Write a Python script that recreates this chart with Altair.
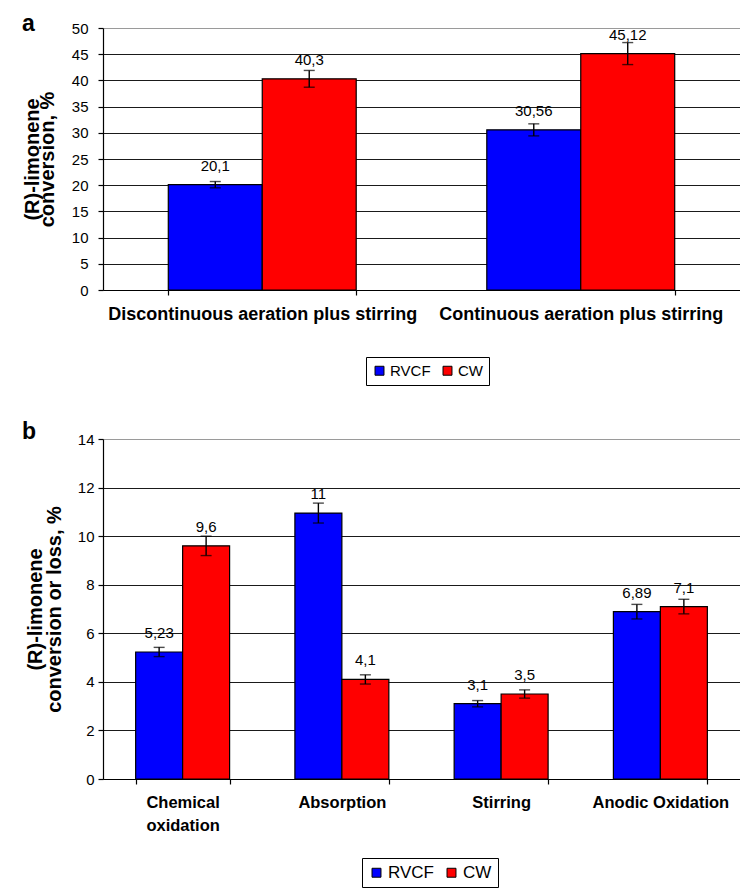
import altair as alt
import pandas as pd

FONT = "Liberation Sans"

# ---------- panel a data ----------
a_categories = ["Discontinuous aeration plus stirring", "Continuous aeration plus stirring"]
a_series = ["RVCF", "CW"]
a_rvcf = [20.1, 30.56]
a_cw = [40.3, 45.12]
a_rvcf_err = [0.6, 1.15]
a_cw_err = [1.6, 2.1]
a_rvcf_lbl = ["20,1", "30,56"]
a_cw_lbl = ["40,3", "45,12"]
a_ticks = [0, 5, 10, 15, 20, 25, 30, 35, 40, 45, 50]

# ---------- panel b data ----------
b_categories = ["Chemical oxidation", "Absorption", "Stirring", "Anodic Oxidation"]
b_rvcf = [5.23, 10.95, 3.1, 6.89]
b_cw = [9.6, 4.1, 3.5, 7.1]
b_rvcf_err = [0.19, 0.41, 0.13, 0.3]
b_cw_err = [0.4, 0.19, 0.17, 0.3]
b_rvcf_lbl = ["5,23", "11", "3,1", "6,89"]
b_cw_lbl = ["9,6", "4,1", "3,5", "7,1"]
b_ticks = [0, 2, 4, 6, 8, 10, 12, 14]

colors = ["#0000FF", "#FF0000"]


def long_df(cats, rv, cw, rv_e, cw_e, rv_l, cw_l):
    rows = []
    for i, c in enumerate(cats):
        for s, v, e, l in (("RVCF", rv[i], rv_e[i], rv_l[i]), ("CW", cw[i], cw_e[i], cw_l[i])):
            rows.append({"cat": c, "series": s, "value": v, "lo": v - e, "hi": v + e, "label": l})
    return pd.DataFrame(rows)


def panel(df, cats, ticks, ymax, width, height, ytitle, letter, xfont, legend_x, legend_y,
          title_lh, label_pad, title_pad, letter_dx, letter_offset, legend_font,
          label_expr=None):
    xaxis = dict(title=None, labelAngle=0, labelFont=FONT, labelFontSize=xfont,
                 labelFontWeight="bold", labelColor="black", labelPadding=10,
                 labelLimit=500,
                 domainColor="black", domainWidth=1.2, tickColor="black", tickSize=5,
                 tickWidth=1.2, tickBand="extent", grid=False, labelLineHeight=23)
    if label_expr:
        xaxis["labelExpr"] = label_expr
    x = alt.X("cat:N", sort=cats,
              scale=alt.Scale(paddingInner=0.41, paddingOuter=0.205),
              axis=alt.Axis(**xaxis))
    xo = alt.XOffset("series:N", sort=a_series)
    y_scale = alt.Scale(domain=[0, ymax], nice=False)
    yaxis = alt.Axis(values=ticks, title=ytitle, titleFont=FONT, titleFontSize=20,
                     titleFontWeight="bold", titleColor="black", titleLineHeight=title_lh,
                     titlePadding=title_pad,
                     labelFont=FONT, labelFontSize=15, labelColor="black",
                     labelPadding=label_pad,
                     domainColor="black", domainWidth=1.2, tickColor="black", tickSize=5,
                     tickWidth=1.2, grid=True,
                     gridColor=alt.condition(f"datum.value == {ymax}", alt.value("#9a9a9a"),
                                             alt.value("#1a1a1a")),
                     gridWidth=1.2)

    def Y(field):
        return alt.Y(field, scale=y_scale, axis=yaxis)

    base = alt.Chart(df)
    bars = base.mark_bar(stroke="black", strokeWidth=1.2).encode(
        x=x, xOffset=xo,
        y=Y("value:Q"),
        color=alt.Color("series:N", sort=a_series,
                        scale=alt.Scale(domain=a_series, range=colors),
                        legend=alt.Legend(orient="none", legendX=legend_x, legendY=legend_y,
                                          direction="horizontal", title=None,
                                          strokeColor="black", fillColor="white",
                                          padding=6, symbolType="square", symbolSize=80,
                                          symbolStrokeColor="black", symbolStrokeWidth=1,
                                          labelFont=FONT, labelFontSize=legend_font,
                                          labelColor="black", columnPadding=9,
                                          labelOffset=3)),
    )
    rules = base.mark_rule(color="black", strokeWidth=1.4).encode(
        x=x, xOffset=xo, y=Y("lo:Q"), y2="hi:Q")
    cap_lo = base.mark_tick(color="black", size=11, thickness=1.4).encode(
        x=x, xOffset=xo, y=Y("lo:Q"))
    cap_hi = base.mark_tick(color="black", size=11, thickness=1.4).encode(
        x=x, xOffset=xo, y=Y("hi:Q"))
    text = base.mark_text(font=FONT, fontSize=15, color="black", dy=-14,
                          baseline="alphabetic").encode(
        x=x, xOffset=xo, y=Y("value:Q"), text="label:N")
    return alt.layer(bars, rules, cap_lo, cap_hi, text).properties(
        width=width, height=height,
        title=alt.TitleParams(letter, anchor="start", frame="group", font=FONT,
                              fontSize=23, fontWeight="bold", color="black",
                              offset=letter_offset, dx=letter_dx),
    )


df_a = long_df(a_categories, a_rvcf, a_cw, a_rvcf_err, a_cw_err, a_rvcf_lbl, a_cw_lbl)
df_b = long_df(b_categories, b_rvcf, b_cw, b_rvcf_err, b_cw_err, b_rvcf_lbl, b_cw_lbl)

top = panel(df_a, a_categories, a_ticks, 50, 637, 262, ["(R)-limonene", "conversion, %"],
            "a", 18, 263, 329, 15, 10, 14, -81, -15, 15)
bottom = panel(df_b, b_categories, b_ticks, 14, 637, 340,
               ["(R)-limonene", "conversion or loss, %"], "b", 16.5, 259, 419, 19, 4, 13,
               -81, -12, 17,
               label_expr="datum.label == 'Chemical oxidation' ? ['Chemical', 'oxidation'] : datum.label")

chart = alt.concat(top, bottom, columns=1, spacing=35).resolve_scale(
    color="independent", xOffset="independent", x="independent", y="independent"
).resolve_legend(color="independent").properties(
    padding={"left": 14, "top": 5, "right": 0, "bottom": 0}
).configure_view(stroke=None)

chart.save("out.html", embed_options={"renderer": "svg", "actions": False})
